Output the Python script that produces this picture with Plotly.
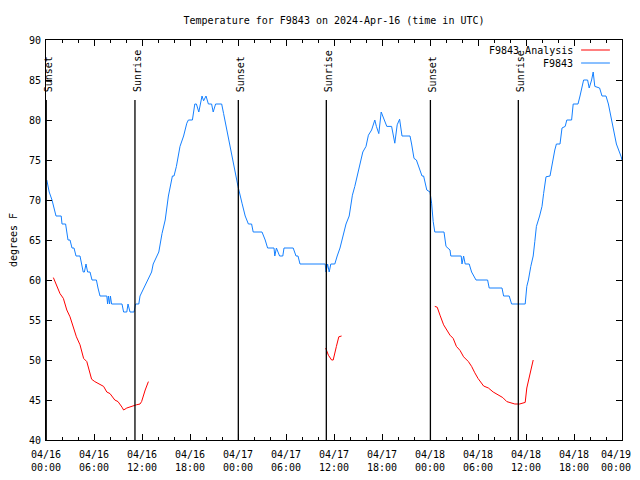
import pandas as pd
import plotly.graph_objects as go

# ---------------- data (hours since 2024-04-16 00:00 UTC) ----------------
base = pd.Timestamp("2024-04-16 00:00")

obs_hours = [0.1, 0.4, 0.75, 1.0, 1.25, 1.9, 2.0, 2.45, 2.6, 2.75, 3.0, 3.25, 3.5, 3.75, 4.25, 4.45,
             4.65, 4.8, 5.0, 5.2, 5.5, 5.75, 6.3, 6.5, 6.75, 7.6, 7.7, 7.8, 7.95, 8.05, 8.2, 9.5,
             9.7, 10.1, 10.25, 10.5, 11.0, 11.2, 11.6, 11.75, 12.0, 12.25, 12.5, 12.8, 13.2, 13.4,
             13.8, 14.1, 14.5, 14.9, 15.3, 15.8, 16.0, 16.3, 16.75, 17.2, 17.6, 17.8, 18.3, 18.6,
             18.8, 19.1, 19.5, 19.7, 20.0, 20.3, 20.7, 20.9, 21.2, 21.96, 22.2, 22.6, 23.0, 23.4,
             23.75, 24.0, 24.5, 24.9, 25.3, 25.7, 25.9, 27.0, 27.4, 27.7, 28.5, 28.6, 28.8, 29.2,
             29.6, 29.75, 30.9, 31.25, 31.5, 31.75, 34.9, 35.0, 35.2, 35.4, 35.6, 36.1, 36.4, 36.75,
             37.0, 37.25, 37.5, 37.9, 38.1, 38.3, 38.6, 38.9, 39.25, 39.6, 40.0, 40.3, 40.7, 41.1,
             41.3, 41.6, 41.9, 42.2, 42.6, 43.2, 43.6, 43.9, 44.2, 44.5, 45.5, 45.7, 46.0, 46.3,
             46.7, 47.0, 47.2, 47.6, 48.0, 48.2, 48.4, 48.6, 49.75, 50.0, 50.5, 50.6, 51.9, 52.0,
             52.2, 52.4, 52.9, 53.2, 53.75, 55.2, 55.4, 57.0, 57.2, 57.9, 58.2, 59.9, 60.1, 60.3,
             60.6, 60.9, 61.1, 61.3, 61.7, 62.0, 62.2, 62.5, 63.0, 63.2, 63.6, 63.8, 64.25, 64.5,
             64.9, 65.1, 65.7, 65.9, 66.5, 66.75, 67.0, 67.2, 67.7, 67.9, 68.2, 68.4, 68.6, 69.2,
             69.5, 70.0, 70.3, 70.7, 71.0, 71.3, 71.9, 72.0]
obs_temps = [72.5, 71, 70, 69, 68, 68, 67, 67, 66, 65, 65, 64, 64, 63, 63, 62,
             61, 61, 62, 61, 61, 60, 60, 59, 58, 58, 57, 58, 57, 58, 57, 57,
             56, 56, 57, 56, 56, 57, 57, 58, 58.5, 59, 59.5, 60, 61, 62,
             63, 63.5, 65.8, 67.5, 70.5, 73, 73, 74.2, 76.7, 78, 79.6, 80, 80, 82,
             82, 81, 83, 82.4, 83, 82, 82, 81, 82, 82, 80.8, 78.75, 77.1, 75,
             73, 71.7, 69.6, 68, 67, 67, 66, 66, 65, 64, 64, 63, 64, 63,
             63, 64, 64, 63, 63, 62, 62, 61, 62, 61, 62, 62, 63, 64,
             65, 66, 67, 68, 69.6, 70.6, 71.7, 73.1, 74.8, 76, 76.7, 78.1, 78.75, 80,
             79.2, 78.3, 81, 80.2, 79.2, 79.2, 77.1, 79.4, 80.1, 78, 78, 77, 75.2, 75,
             74, 73, 73, 71.25, 71, 69.6, 67.3, 66, 66, 64.2, 63.75, 63, 63, 62,
             63, 62, 62, 61, 60, 60, 59, 59, 58, 58, 57, 57, 59.2, 60,
             61.7, 63, 64.8, 66.7, 68, 69.2, 70.8, 72.9, 73, 74.2, 76.25, 77, 77, 79,
             79.2, 80, 80, 82, 82, 83, 84, 85, 85, 84, 85, 86, 84.2, 84,
             83, 83, 82, 80, 78.5, 77, 75.4, 75]

ana_hours = [0.92, 1.33, 1.75, 2.17, 2.6, 3.0, 3.4, 3.8, 4.25, 4.7, 5.1, 5.5, 5.7, 6.1, 6.75,
             7.2, 7.6, 8.0, 8.6, 9.0, 9.5, 9.7, 10.1, 10.7, 11.3, 11.75, 11.95, 12.4, 12.8,
             None,
             34.96, 35.3, 35.7, 35.9, 36.3, 36.6, 36.95,
             None,
             48.6, 48.9, 49.25, 49.7, 50.1, 50.5, 50.9, 51.3, 51.75, 52.2, 52.8, 53.2, 53.6,
             54.0, 54.7, 55.3, 55.9, 56.5, 57.1, 57.6, 58.0, 58.6, 59.2, 59.9, 60.1, 60.5,
             60.8, 60.9]
ana_temps = [60.3, 59.4, 58.3, 57.7, 56.25, 55.4, 54.0, 52.9, 51.9, 50.2, 49.8, 48.3, 47.6, 47.3,
             46.9, 46.7, 46.0, 45.8, 45.0, 44.8, 44.1, 43.75, 44.0, 44.25, 44.4, 44.5, 44.8,
             46.25, 47.3,
             None,
             51.5, 50.6, 50.0, 50.0, 51.7, 52.9, 53.0,
             None,
             56.7, 56.6, 55.6, 54.4, 53.75, 53.1, 52.7, 51.7, 51.2, 50.4, 49.8, 49.2, 48.4,
             47.7, 46.75, 46.5, 46.0, 45.6, 45.3, 44.8, 44.7, 44.5, 44.5, 44.7, 46.5, 48.3,
             49.9, 50.0]

sun_labels = ["Sunset", "Sunrise", "Sunset", "Sunrise", "Sunset", "Sunrise"]
sun_hours = [0.03, 11.12, 24.04, 35.04, 48.05, 59.04]

NB = "\u00a0\u00a0"  # keeps the right-most label's glyphs inside the visible page
x_tick_hours = [0, 6, 12, 18, 24, 30, 36, 42, 48, 54, 60, 66, 72]
x_tick_labels = ["04/16<br>00:00", "04/16<br>06:00", "04/16<br>12:00", "04/16<br>18:00",
                 "04/17<br>00:00", "04/17<br>06:00", "04/17<br>12:00", "04/17<br>18:00",
                 "04/18<br>00:00", "04/18<br>06:00", "04/18<br>12:00", "04/18<br>18:00",
                 "04/19" + NB + "<br>00:00" + NB]
y_ticks = [40, 45, 50, 55, 60, 65, 70, 75, 80, 85, 90]

series_names = ["F9843 Analysis", "F9843"]
series_colors = ["#ff0000", "#1480ff"]

# ---------------- helpers ----------------
def to_time(hours):
    return [None if h is None else base + pd.Timedelta(hours=h) for h in hours]

FONT = "DejaVu Sans Mono"
W, H = 624, 464  # page body has an 8px default margin on every side

fig = go.Figure()
fig.add_trace(go.Scatter(x=to_time(ana_hours), y=ana_temps, mode="lines",
                         name=series_names[0], connectgaps=False,
                         line=dict(color=series_colors[0], width=1)))
fig.add_trace(go.Scatter(x=to_time(obs_hours), y=obs_temps, mode="lines",
                         name=series_names[1],
                         line=dict(color=series_colors[1], width=1)))

# sunrise / sunset markers
for lab, h in zip(sun_labels, sun_hours):
    t = base + pd.Timedelta(hours=h)
    fig.add_shape(type="line", xref="x", yref="paper", x0=t, x1=t, y0=0, y1=0.85,
                  line=dict(color="black", width=1.3))
    fig.add_annotation(x=t, y=0.865, xref="x", yref="paper", text=lab, textangle=-90,
                       showarrow=False, xanchor="center", yanchor="bottom", xshift=2,
                       font=dict(family=FONT, size=10, color="black"))

# manual gnuplot-style legend (text right, sample line on the right)
leg_rows = [0.975, 0.9425]
for name, col, yy in zip(series_names, series_colors, leg_rows):
    fig.add_annotation(x=0.919, y=yy, xref="paper", yref="paper", text=name,
                       showarrow=False, xanchor="right", yanchor="middle",
                       font=dict(family=FONT, size=10, color="black"))
    fig.add_shape(type="line", xref="paper", yref="paper", x0=0.929, x1=0.979,
                  y0=yy, y1=yy, line=dict(color=col, width=1))

fig.update_layout(
    width=W, height=H,
    margin=dict(l=38, r=10, t=32, b=32),
    plot_bgcolor="white", paper_bgcolor="white",
    font=dict(family=FONT, size=10, color="black"),
    showlegend=False,
    title=dict(text="Temperature for F9843 on 2024-Apr-16 (time in UTC)",
               x=0.5, xref="paper", xanchor="center",
               y=1 - 12 / H, yref="container", yanchor="middle",
               font=dict(family=FONT, size=10, color="black")),
)
fig.update_xaxes(
    type="date",
    range=[base, base + pd.Timedelta(hours=72)],
    tickmode="array",
    tickvals=to_time(x_tick_hours), ticktext=x_tick_labels,
    ticks="inside", ticklen=6, tickcolor="black",
    ticklabelstandoff=5, ticklabeloverflow="allow",
    minor=dict(dtick=2 * 3600 * 1000, tick0=base, ticks="inside", ticklen=3,
               tickcolor="black"),
    showline=True, linecolor="black", linewidth=1, mirror="ticks",
    showgrid=False, zeroline=False, automargin=False,
    tickfont=dict(family=FONT, size=10, color="black"),
)
fig.update_yaxes(
    range=[40, 90], tickmode="array", tickvals=y_ticks,
    ticks="inside", ticklen=6, tickcolor="black",
    ticklabelstandoff=2,
    showline=True, linecolor="black", linewidth=1, mirror="ticks",
    showgrid=False, zeroline=False, automargin=False,
    title=dict(text="degrees F", standoff=16, font=dict(family=FONT, size=10, color="black")),
    tickfont=dict(family=FONT, size=10, color="black"),
)

fig.write_html("out.html")
